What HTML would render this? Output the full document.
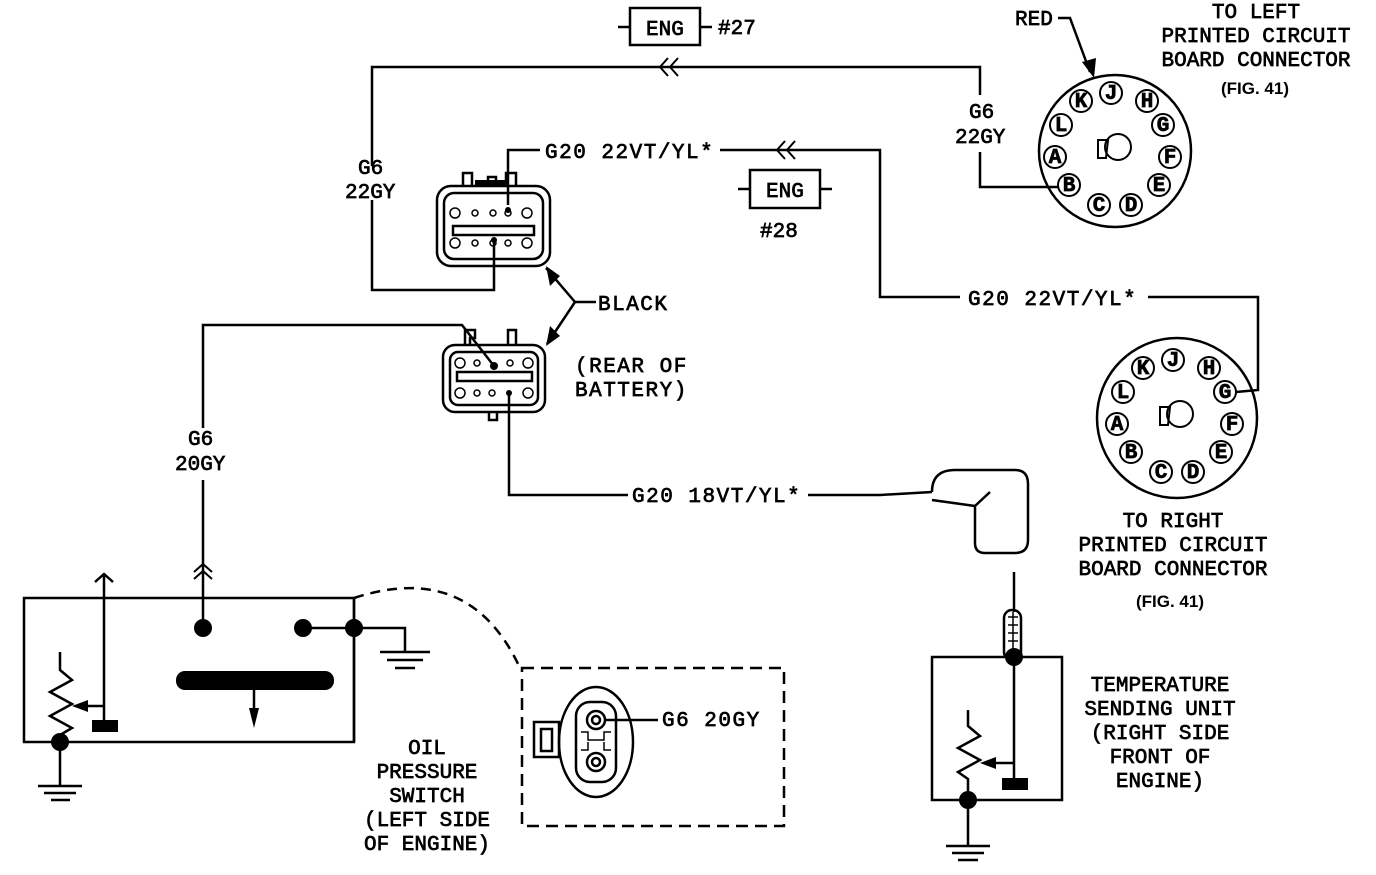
<!DOCTYPE html>
<html><head><style>
html,body{margin:0;padding:0;background:#fff;}
svg text{font-family:"Liberation Mono",monospace;font-size:21px;fill:#000;stroke:#000;stroke-width:0.7px;}
.b{font-family:"Liberation Sans",sans-serif;font-weight:bold;font-size:17px;stroke-width:0;}
</style></head><body>
<svg width="1376" height="870" viewBox="0 0 1376 870" xmlns="http://www.w3.org/2000/svg">
<g fill="none" stroke="#000" stroke-width="2.5">
<polyline points="372,166 372,67 980,67 980,95"/>
<polyline points="980,152 980,187 1058,187"/>
<polyline points="372,200 372,290 494,290 494,242"/>
<path d="M668,58 l-8,9 l8,9 M678,58 l-8,9 l8,9" stroke-width="2"/>
<rect x="630" y="8" width="70" height="37"/>
<path d="M618,27 H630 M700,27 H712"/>
<polyline points="540,150 508,150 508,205"/>
<polyline points="720,150 880,150 880,297 960,297"/>
<path d="M785,141 l-8,9 l8,9 M795,141 l-8,9 l8,9" stroke-width="2"/>
<polyline points="1148,297 1258,297 1258,390 1236,392"/>
<rect x="750" y="170" width="70" height="38"/>
<path d="M738,189 H750 M820,189 H832"/>
<rect x="437" y="186" width="113" height="80" rx="14"/>
<rect x="444" y="193" width="99" height="66" rx="10"/>
<rect x="453" y="226" width="81" height="9"/>
<path d="M463,186 V173 H472 V186 M488,186 V177 H496 V186 M506,186 V173 H516 V186"/>
<rect x="443" y="345" width="102" height="67" rx="12"/>
<rect x="450" y="352" width="88" height="53" rx="8"/>
<rect x="457" y="372" width="75" height="9"/>
<path d="M465,345 V330 H475 V338 H470 V345 M508,345 V330 H516 V345 M489,412 V420 H497 V412"/>
<path d="M596,302 H575 L546,268 M575,302 L547,344"/>
<polyline points="203,428 203,325 462,325 494,366"/>
<polyline points="203,480 203,622"/>
<path d="M194,572 l9,-8 l9,8 M194,579 l9,-8 l9,8" stroke-width="2"/>
<polyline points="509,395 509,495 628,495"/>
<polyline points="808,495 880,495 932,492"/>
<rect x="24" y="598" width="330" height="144"/>
<path d="M104,575 V720 M95,582 l9,-8 l9,8"/>
<path d="M60,652 V670 L72,680 L50,692 L72,704 L50,716 L72,728 L60,735 V742" stroke-width="2.5"/>
<path d="M104,706 H78"/>
<path d="M303,628 H405 V652 M380,652 H430 M387,660 H423 M395,668 H415"/>
<path d="M354,598 V742"/>
<path d="M60,742 V786 M38,786 H82 M44,793 H76 M51,800 H70"/>
<path d="M254,690 V720"/>
<path d="M354,598 Q470,560 520,668" stroke-dasharray="10,7"/>
<rect x="522" y="668" width="262" height="158" stroke-dasharray="12,7"/>
<ellipse cx="596" cy="742" rx="37" ry="55"/>
<rect x="576" y="702" width="40" height="80" rx="14"/>
<circle cx="596" cy="720" r="9"/><circle cx="596" cy="720" r="4"/>
<circle cx="596" cy="762" r="9"/><circle cx="596" cy="762" r="4"/>
<path d="M581,732 H588 V740 H604 V732 H611 M581,750 H588 V742 M604,742 V750 H611" stroke-width="1.5"/>
<rect x="534" y="722" width="25" height="35"/><rect x="541" y="729" width="11" height="22"/>
<path d="M605,720 H658"/>
<path d="M932,492 Q932,470 955,470 H1015 Q1028,470 1028,484 V540 Q1028,553 1015,553 H985 Q975,553 975,543 V506 L990,492 M975,506 L932,500"/>
<path d="M1014,572 V612"/>
<rect x="1004" y="610" width="17" height="50" rx="8"/>
<path d="M1008,617 H1018 M1008,625 H1018 M1008,633 H1018 M1008,641 H1018 M1013,612 V650" stroke-width="1.5"/>
<rect x="932" y="657" width="130" height="143"/>
<path d="M1014,660 V778 M1014,763 H986"/>
<path d="M968,710 V726 L980,736 L958,748 L980,760 L958,772 L968,779 V800"/>
<path d="M968,800 V846 M946,846 H990 M952,853 H984 M958,860 H978"/>
<circle cx="1115" cy="151" r="76"/>
<circle cx="1177" cy="418" r="80"/>
<path d="M1058,18 H1070 L1090,72"/>
</g>
<g fill="#000">
<path d="M1082,62 L1094,78 L1096,58 Z"/>
<path d="M546,266 L550,286 L560,276 Z"/>
<path d="M546,346 L550,326 L560,336 Z"/>
<circle cx="203" cy="628" r="9"/><circle cx="303" cy="628" r="9"/><circle cx="354" cy="628" r="9"/>
<circle cx="60" cy="742" r="9"/>
<rect x="92" y="720" width="26" height="12"/>
<rect x="176" y="671" width="158" height="19" rx="9"/>
<path d="M249,708 L254,728 L259,708 Z"/>
<path d="M72,706 L88,700 L88,712 Z"/>
<circle cx="1014" cy="657" r="9"/>
<circle cx="968" cy="800" r="9"/>
<rect x="1002" y="778" width="26" height="12"/>
<path d="M980,763 L996,757 L996,769 Z"/>
<circle cx="508" cy="210" r="3"/><circle cx="494" cy="240" r="3"/>
<circle cx="494" cy="366" r="4"/><circle cx="509" cy="393" r="3"/>
<rect x="475" y="180" width="30" height="6"/>
</g>
<g fill="none" stroke="#000" stroke-width="1.5">
<circle cx="455" cy="213" r="5"/><circle cx="475" cy="213" r="3"/><circle cx="493" cy="213" r="3"/><circle cx="508" cy="213" r="3"/><circle cx="527" cy="213" r="5"/>
<circle cx="455" cy="243" r="5"/><circle cx="475" cy="243" r="3"/><circle cx="493" cy="243" r="3"/><circle cx="508" cy="243" r="3"/><circle cx="527" cy="243" r="5"/>
<circle cx="460" cy="363" r="5"/><circle cx="477" cy="363" r="3"/><circle cx="510" cy="363" r="3"/><circle cx="528" cy="363" r="5"/>
<circle cx="460" cy="393" r="5"/><circle cx="477" cy="393" r="3"/><circle cx="492" cy="393" r="3"/><circle cx="528" cy="393" r="5"/>
</g>
<g fill="none" stroke="#000" stroke-width="2">
<circle cx="1118" cy="147" r="13"/><path d="M1098,140 H1108 L1106,158 H1098 Z"/>
<circle cx="1180" cy="414" r="13"/><path d="M1160,407 H1170 L1168,425 H1160 Z"/>
</g>
<g text-anchor="middle">
<g fill="none" stroke="#000" stroke-width="2">
<circle cx="1111" cy="93" r="11"/><circle cx="1081" cy="101" r="11"/><circle cx="1147" cy="101" r="11"/><circle cx="1061" cy="125" r="11"/><circle cx="1163" cy="125" r="11"/><circle cx="1055" cy="157" r="11"/><circle cx="1170" cy="157" r="11"/><circle cx="1069" cy="185" r="11"/><circle cx="1159" cy="185" r="11"/><circle cx="1099" cy="205" r="11"/><circle cx="1131" cy="205" r="11"/>
<circle cx="1173" cy="360" r="11"/><circle cx="1143" cy="368" r="11"/><circle cx="1209" cy="368" r="11"/><circle cx="1123" cy="392" r="11"/><circle cx="1225" cy="392" r="11"/><circle cx="1117" cy="424" r="11"/><circle cx="1232" cy="424" r="11"/><circle cx="1131" cy="452" r="11"/><circle cx="1221" cy="452" r="11"/><circle cx="1161" cy="472" r="11"/><circle cx="1193" cy="472" r="11"/>
</g>
<g style="font-family:'Liberation Sans',sans-serif;font-size:17px;font-weight:bold">
<text x="1111" y="99">J</text><text x="1081" y="107">K</text><text x="1147" y="107">H</text><text x="1061" y="131">L</text><text x="1163" y="131">G</text><text x="1055" y="163">A</text><text x="1170" y="163">F</text><text x="1069" y="191">B</text><text x="1159" y="191">E</text><text x="1099" y="211">C</text><text x="1131" y="211">D</text>
<text x="1173" y="366">J</text><text x="1143" y="374">K</text><text x="1209" y="374">H</text><text x="1123" y="398">L</text><text x="1225" y="398">G</text><text x="1117" y="430">A</text><text x="1232" y="430">F</text><text x="1131" y="458">B</text><text x="1221" y="458">E</text><text x="1161" y="478">C</text><text x="1193" y="478">D</text>
</g>
</g>
<text x="646" y="35">ENG</text>
<text x="718" y="34">#27</text>
<text x="766" y="197">ENG</text>
<text x="760" y="237">#28</text>
<text x="545" y="158" letter-spacing="1.5">G20 22VT/YL*</text>
<text x="968" y="305" letter-spacing="1.5">G20 22VT/YL*</text>
<text x="632" y="502" letter-spacing="1.5">G20 18VT/YL*</text>
<text x="662" y="726" letter-spacing="1.5">G6 20GY</text>
<text x="358" y="174">G6</text><text x="345" y="198">22GY</text>
<text x="969" y="118">G6</text><text x="955" y="143">22GY</text>
<text x="188" y="445">G6</text><text x="175" y="470">20GY</text>
<text x="598" y="310" letter-spacing="1.5">BLACK</text>
<text x="575" y="372" letter-spacing="1.5">(REAR OF</text>
<text x="575" y="396" letter-spacing="1.5">BATTERY)</text>
<text x="1015" y="25">RED</text>
<g text-anchor="middle">
<text x="1256" y="18">TO LEFT</text>
<text x="1256" y="42">PRINTED CIRCUIT</text>
<text x="1256" y="66">BOARD CONNECTOR</text>
<text x="1255" y="94" class="b">(FIG. 41)</text>
<text x="1173" y="527">TO RIGHT</text>
<text x="1173" y="551">PRINTED CIRCUIT</text>
<text x="1173" y="575">BOARD CONNECTOR</text>
<text x="1170" y="607" class="b">(FIG. 41)</text>
<text x="1160" y="691">TEMPERATURE</text>
<text x="1160" y="715">SENDING UNIT</text>
<text x="1160" y="739">(RIGHT SIDE</text>
<text x="1160" y="763">FRONT OF</text>
<text x="1160" y="787">ENGINE)</text>
<text x="427" y="754">OIL</text>
<text x="427" y="778">PRESSURE</text>
<text x="427" y="802">SWITCH</text>
<text x="427" y="826">(LEFT SIDE</text>
<text x="427" y="850">OF ENGINE)</text>
</g>
</svg>
</body></html>
